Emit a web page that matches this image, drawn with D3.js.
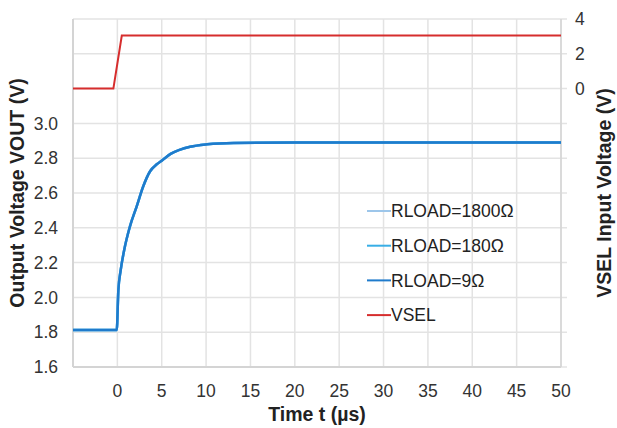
<!DOCTYPE html>
<html>
<head>
<meta charset="utf-8">
<script src="https://cdn.jsdelivr.net/npm/d3@7/dist/d3.min.js"></script>
<style>
  body { margin: 0; background: #fff; }
  svg { font-family: "Liberation Sans", Arial, sans-serif; }
</style>
</head>
<body>
<div id="chart"></div>
<script>
const voutTime = [-5, -0.07, 0.11, 0.38, 0.76, 1.43, 2.19, 2.93, 3.69, 4.44, 5.1, 6.0, 7.0, 8.2, 10.1, 13.1, 20, 30, 40, 50];
const voutValues = [1.813, 1.813, 2.04, 2.158, 2.27, 2.41, 2.525, 2.64, 2.725, 2.765, 2.79, 2.825, 2.848, 2.866, 2.88, 2.888, 2.89, 2.89, 2.89, 2.89];

const vselTime = [-5, -0.45, 0.5, 50];
const vselValues = [0, 0, 3.05, 3.05];

const seriesNames = ["RLOAD=1800Ω", "RLOAD=180Ω", "RLOAD=9Ω", "VSEL"];
const seriesColors = ["#9dc6ea", "#38aee6", "#1f7bcc", "#d62d2d"];

const xTicks = [0, 5, 10, 15, 20, 25, 30, 35, 40, 45, 50];
const xGrid = [-5, 0, 5, 10, 15, 20, 25, 30, 35, 40, 45, 50];
const yLeftLabels = [1.6, 1.8, 2.0, 2.2, 2.4, 2.6, 2.8, 3.0];
const yLeftGrid = [1.6, 1.8, 2.0, 2.2, 2.4, 2.6, 2.8, 3.0, 3.2, 3.4, 3.6];
const yRightLabels = [0, 2, 4];

const width = 617, height = 428;
const margin = { top: 19, right: 56, bottom: 61, left: 73 };
const innerW = width - margin.left - margin.right;
const innerH = height - margin.top - margin.bottom;
const labelSize = 17.5, titleSize = 19.5;

const svg = d3.select("#chart").append("svg")
  .attr("width", width)
  .attr("height", height);

const g = svg.append("g").attr("transform", `translate(${margin.left},${margin.top})`);

const x = d3.scaleLinear().domain([-5, 50]).range([0, innerW]);
const yLeft = d3.scaleLinear().domain([1.6, 3.6]).range([innerH, 0]);
const yRight = d3.scaleLinear().domain([-16, 4]).range([innerH, 0]);

// gridlines
g.append("g").selectAll("line").data(yLeftGrid).join("line")
  .attr("x1", 0).attr("x2", innerW + 6)
  .attr("y1", d => yLeft(d)).attr("y2", d => yLeft(d))
  .attr("stroke", "#e3e3e3").attr("stroke-width", 1.5);

g.append("g").selectAll("line").data(xGrid).join("line")
  .attr("x1", d => x(d)).attr("x2", d => x(d))
  .attr("y1", 0).attr("y2", innerH)
  .attr("stroke", "#e3e3e3").attr("stroke-width", 1.5);

// axis lines
g.append("line").attr("x1", 0).attr("x2", 0).attr("y1", 0).attr("y2", innerH)
  .attr("stroke", "#d4d4d4").attr("stroke-width", 2);
g.append("line").attr("x1", 0).attr("x2", innerW).attr("y1", innerH).attr("y2", innerH)
  .attr("stroke", "#d4d4d4").attr("stroke-width", 2);
g.append("line").attr("x1", innerW).attr("x2", innerW).attr("y1", 0).attr("y2", innerH)
  .attr("stroke", "#d4d4d4").attr("stroke-width", 1.5);

// tick labels
g.append("g").selectAll("text").data(xTicks).join("text")
  .attr("x", d => x(d)).attr("y", innerH + 30)
  .attr("text-anchor", "middle")
  .attr("font-size", labelSize).attr("fill", "#333")
  .text(d => d);

g.append("g").selectAll("text").data(yLeftLabels).join("text")
  .attr("x", -15).attr("y", d => yLeft(d))
  .attr("dy", "0.35em")
  .attr("text-anchor", "end")
  .attr("font-size", labelSize).attr("fill", "#333")
  .text(d => d3.format(".1f")(d));

g.append("g").selectAll("text").data(yRightLabels).join("text")
  .attr("x", innerW + 14).attr("y", d => yRight(d))
  .attr("dy", "0.35em")
  .attr("text-anchor", "start")
  .attr("font-size", labelSize).attr("fill", "#333")
  .text(d => d);

// axis titles
svg.append("text")
  .attr("x", margin.left + innerW / 2).attr("y", 421)
  .attr("text-anchor", "middle")
  .attr("font-size", titleSize).attr("font-weight", "bold").attr("fill", "#222")
  .text("Time t (µs)");

svg.append("text")
  .attr("transform", `translate(24,${margin.top + innerH / 2}) rotate(-90)`)
  .attr("text-anchor", "middle")
  .attr("font-size", titleSize).attr("font-weight", "bold").attr("fill", "#222")
  .text("Output Voltage VOUT (V)");

svg.append("text")
  .attr("transform", `translate(611,${193}) rotate(-90)`)
  .attr("text-anchor", "middle")
  .attr("font-size", titleSize).attr("font-weight", "bold").attr("fill", "#222")
  .text("VSEL Input Voltage (V)");

// traces
const voutData = voutTime.map((t, i) => ({ t, v: voutValues[i] }));
const vselData = vselTime.map((t, i) => ({ t, v: vselValues[i] }));

const voutLine = d3.line().x(d => x(d.t)).y(d => yLeft(d.v)).curve(d3.curveMonotoneX);
const vselLine = d3.line().x(d => x(d.t)).y(d => yRight(d.v));

[0, 1, 2].forEach(i => {
  g.append("path")
    .datum(voutData)
    .attr("fill", "none")
    .attr("stroke", seriesColors[i])
    .attr("stroke-width", 2.5)
    .attr("d", voutLine);
});

g.append("path")
  .datum(vselData)
  .attr("fill", "none")
  .attr("stroke", seriesColors[3])
  .attr("stroke-width", 2)
  .attr("d", vselLine);

// legend
const legend = svg.append("g").attr("transform", "translate(367,211)");
seriesNames.forEach((name, i) => {
  const row = legend.append("g").attr("transform", `translate(0,${i * 34.7})`);
  row.append("line").attr("x1", 0).attr("x2", 24).attr("y1", 0).attr("y2", 0)
    .attr("stroke", seriesColors[i]).attr("stroke-width", 2);
  row.append("text").attr("x", 24).attr("y", 0).attr("dy", "0.35em")
    .attr("font-size", labelSize).attr("fill", "#222")
    .text(name);
});
</script>
</body>
</html>
